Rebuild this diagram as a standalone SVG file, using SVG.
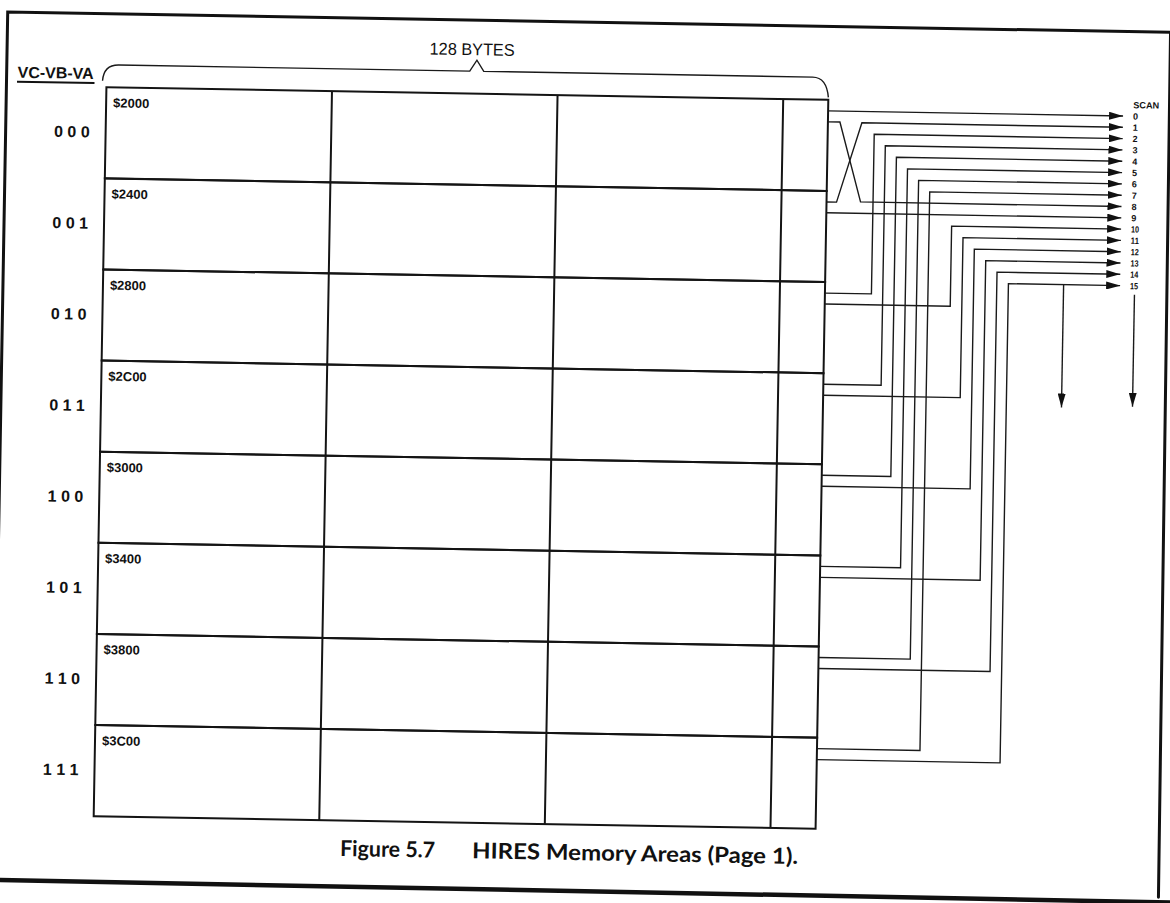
<svg xmlns="http://www.w3.org/2000/svg" width="1170" height="903" viewBox="0 0 1170 903">
<style>
.grid{stroke:#141414;stroke-width:2;fill:none}
.frame{stroke:#111;stroke-width:3;fill:none;stroke-linecap:round}
.wire{stroke:#1a1a1a;stroke-width:1.4;fill:none}
.arr{marker-end:url(#ah)}
.t{font-family:"Liberation Sans",Arial,Helvetica,sans-serif;fill:#111}
.row{font-size:16px;font-weight:bold;text-anchor:end}
.addr{font-size:13px;font-weight:bold}
.scan{font-size:9px;font-weight:bold}
.cap{font-family:Lato,"Noto Sans","Liberation Sans",sans-serif;font-weight:bold;font-size:22px;fill:#111}
</style>
<defs>
<marker id="ah" viewBox="0 0 14 8" refX="14" refY="4" markerWidth="14" markerHeight="8" markerUnits="userSpaceOnUse" orient="auto">
<path d="M0,0 L14,4 L0,8 z" fill="#111"/>
</marker>
</defs>
<rect width="1170" height="903" fill="#fff"/>
<g transform="rotate(1 461 458)">
<g id="page-frame">
<path class="frame" d="M0,910 V20 H1163 L1166,885"/>
<path d="M0,888 L1180,890" stroke="#111" stroke-width="4.5" fill="none"/>
</g>
<g id="header">
<path class="wire" stroke-width="1.6" d="M96,87 Q97,71 112,71 H463 L470,60 L477,71 H806 Q820,71 822,91"/>
<text class="t" x="465" y="55" font-size="17" text-anchor="middle" textLength="85" lengthAdjust="spacingAndGlyphs">128 BYTES</text>
<text class="t" x="11" y="85.5" font-size="16" font-weight="bold" textLength="76" lengthAdjust="spacingAndGlyphs">VC-VB-VA</text>
<line x1="10.5" y1="89.5" x2="88" y2="89.5" stroke="#111" stroke-width="2"/>
</g>
<g id="row-000">
<rect class="grid" x="100" y="93.5" width="722" height="91.125"/>
<path class="grid" d="M325.6,93.5 V184.625 M551.2,93.5 V184.625 M776.9,93.5 V184.625"/>
<text class="t addr" x="107" y="113.5">$2000</text>
<text class="t row" x="84" y="144">0 0 0</text>
</g>
<g id="row-001">
<rect class="grid" x="100" y="184.625" width="722" height="91.125"/>
<path class="grid" d="M325.6,184.625 V275.75 M551.2,184.625 V275.75 M776.9,184.625 V275.75"/>
<text class="t addr" x="107" y="204.6">$2400</text>
<text class="t row" x="84" y="235.2">0 0 1</text>
</g>
<g id="row-010">
<rect class="grid" x="100" y="275.75" width="722" height="91.125"/>
<path class="grid" d="M325.6,275.75 V366.875 M551.2,275.75 V366.875 M776.9,275.75 V366.875"/>
<text class="t addr" x="107" y="295.8">$2800</text>
<text class="t row" x="84" y="326.3">0 1 0</text>
</g>
<g id="row-011">
<rect class="grid" x="100" y="366.875" width="722" height="91.125"/>
<path class="grid" d="M325.6,366.875 V458 M551.2,366.875 V458 M776.9,366.875 V458"/>
<text class="t addr" x="107" y="386.9">$2C00</text>
<text class="t row" x="84" y="417.4">0 1 1</text>
</g>
<g id="row-100">
<rect class="grid" x="100" y="458" width="722" height="91.125"/>
<path class="grid" d="M325.6,458 V549.125 M551.2,458 V549.125 M776.9,458 V549.125"/>
<text class="t addr" x="107" y="478">$3000</text>
<text class="t row" x="84" y="508.6">1 0 0</text>
</g>
<g id="row-101">
<rect class="grid" x="100" y="549.125" width="722" height="91.125"/>
<path class="grid" d="M325.6,549.125 V640.25 M551.2,549.125 V640.25 M776.9,549.125 V640.25"/>
<text class="t addr" x="107" y="569.1">$3400</text>
<text class="t row" x="84" y="599.7">1 0 1</text>
</g>
<g id="row-110">
<rect class="grid" x="100" y="640.25" width="722" height="91.125"/>
<path class="grid" d="M325.6,640.25 V731.375 M551.2,640.25 V731.375 M776.9,640.25 V731.375"/>
<text class="t addr" x="107" y="660.3">$3800</text>
<text class="t row" x="84" y="690.8">1 1 0</text>
</g>
<g id="row-111">
<rect class="grid" x="100" y="731.375" width="722" height="91.125"/>
<path class="grid" d="M325.6,731.375 V822.5 M551.2,731.375 V822.5 M776.9,731.375 V822.5"/>
<text class="t addr" x="107" y="751.4">$3C00</text>
<text class="t row" x="84" y="781.9">1 1 1</text>
</g>
<g id="connectors">
<path class="wire arr" d="M822,104.5 H1117"/>
<path class="wire arr" d="M822,115.5 H834 L856,195 H1117"/>
<path class="wire arr" d="M822,195.6 H832 L856,115.8 H1117"/>
<path class="wire arr" d="M822,206.4 H1117"/>
<path class="wire arr" d="M822,286.75 H868.5 V127.1 H1117"/>
<path class="wire arr" d="M822,297.75 H947.5 V217.6 H1117"/>
<path class="wire arr" d="M822,377.9 H879.8 V138.4 H1117"/>
<path class="wire arr" d="M822,388.9 H959.1 V228.9 H1117"/>
<path class="wire arr" d="M822,469 H891.1 V149.7 H1117"/>
<path class="wire arr" d="M822,480 H970.6 V240.2 H1117"/>
<path class="wire arr" d="M822,560.1 H902.4 V161.1 H1117"/>
<path class="wire arr" d="M822,571.1 H982.2 V251.5 H1117"/>
<path class="wire arr" d="M822,651.25 H913.7 V172.4 H1117"/>
<path class="wire arr" d="M822,662.25 H993.7 V262.8 H1117"/>
<path class="wire arr" d="M822,742.4 H925 V183.7 H1117"/>
<path class="wire arr" d="M822,753.4 H1005.3 V274.15 H1117"/>
<path class="wire arr" d="M1060.5,274.15 V397"/>
<path class="wire arr" d="M1131.5,283 V395"/>
</g>
<g id="scan-labels">
<text class="t scan" x="1127" y="96.5" textLength="26" lengthAdjust="spacingAndGlyphs">SCAN</text>
<text class="t scan" x="1127" y="107.8">0</text>
<text class="t scan" x="1127" y="119.1">1</text>
<text class="t scan" x="1127" y="130.4">2</text>
<text class="t scan" x="1127" y="141.7">3</text>
<text class="t scan" x="1127" y="153">4</text>
<text class="t scan" x="1127" y="164.3">5</text>
<text class="t scan" x="1127" y="175.7">6</text>
<text class="t scan" x="1127" y="187">7</text>
<text class="t scan" x="1127" y="198.3">8</text>
<text class="t scan" x="1127" y="209.6">9</text>
<text class="t scan" x="1127" y="220.9" textLength="8" lengthAdjust="spacingAndGlyphs">10</text>
<text class="t scan" x="1127" y="232.2" textLength="8" lengthAdjust="spacingAndGlyphs">11</text>
<text class="t scan" x="1127" y="243.5" textLength="8" lengthAdjust="spacingAndGlyphs">12</text>
<text class="t scan" x="1127" y="254.8" textLength="8" lengthAdjust="spacingAndGlyphs">13</text>
<text class="t scan" x="1127" y="266.1" textLength="8" lengthAdjust="spacingAndGlyphs">14</text>
<text class="t scan" x="1127" y="277.5" textLength="8" lengthAdjust="spacingAndGlyphs">15</text>
</g>
<g id="caption">
<text class="cap" x="347" y="858" textLength="95" lengthAdjust="spacingAndGlyphs">Figure 5.7</text>
<text class="cap" x="479" y="858" textLength="326" lengthAdjust="spacingAndGlyphs">HIRES Memory Areas (Page 1).</text>
</g>
</g>
</svg>
